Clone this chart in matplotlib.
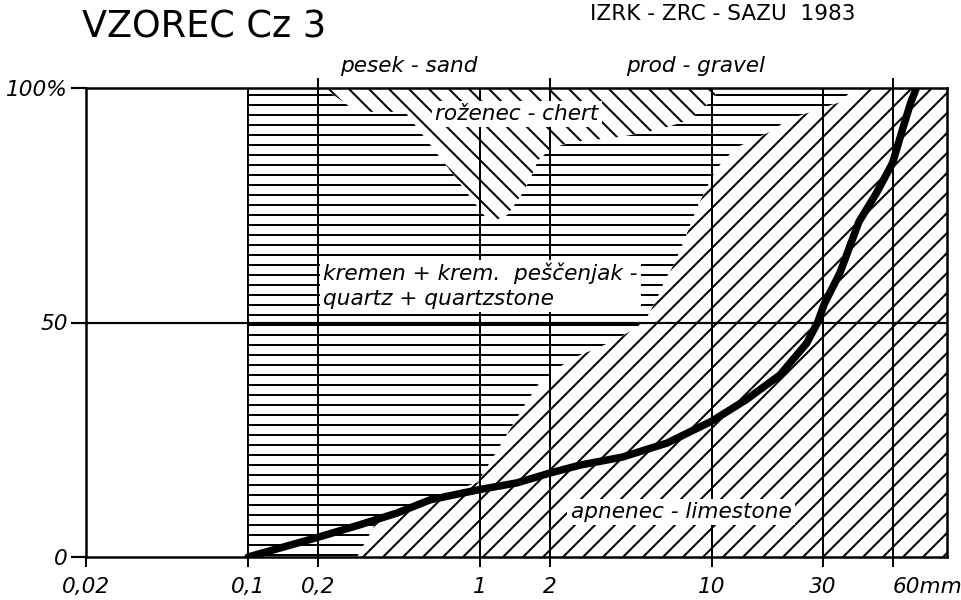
from __future__ import annotations

import matplotlib

matplotlib.use("Agg")
import matplotlib.pyplot as plt
from matplotlib.ticker import NullLocator

# grain size distribution curve (mm, cumulative %)
grain_mm = [0.1, 0.2, 0.3, 0.44, 0.61, 1.0, 1.44, 2.0, 2.7, 4.1, 6.4, 10, 14, 19.6,
            25.6, 28.5, 30.5, 35.6, 43, 51, 60, 67, 72, 76]
cumulative_pct = [0, 4.2, 6.8, 9.4, 12.2, 14.4, 15.8, 17.9, 19.6, 21.3, 24.3, 29, 33.5,
                  38.8, 45.6, 50, 54, 60.6, 71.5, 77.5, 84, 92, 97, 100]

# upper edge of the limestone share
limestone_mm = [0.295, 0.36, 0.44, 0.61, 0.98, 1.56, 1.8, 2.26, 2.7, 3.36, 4.01, 4.75,
                5.25, 5.8, 6.27, 6.93, 7.5, 8.04, 8.71, 9.51, 10.5, 12.6, 14.9, 18.3,
                21.1, 27.2, 35.6, 39.4, 41.5]
limestone_top = [0, 7.8, 9.4, 12.2, 16.0, 32.5, 37.1, 40.9, 43.1, 45.0, 46.9, 49.0,
                 51.2, 55.2, 59.1, 62.9, 67.0, 70.8, 75.1, 78.9, 82.9, 87.2, 88.9, 91.0,
                 93.2, 95.1, 97.0, 99.1, 100]

# lower edge of the chert share
chert_mm = [0.211, 0.295, 0.475, 1.104, 1.31, 1.49, 1.64, 1.78, 2.04, 2.52, 3.74, 5.8,
            8.04, 8.88, 10.0, 10.8]
chert_bottom = [100, 94.9, 94.9, 71.2, 72.9, 76.8, 80.4, 84.6, 87.2, 88.5, 89.3, 91.0,
                93.2, 95.1, 97.4, 100]

size_ticks = [0.02, 0.1, 0.2, 1, 2, 10, 30, 60]
size_labels = ["0,02", "0,1", "0,2", "1", "2", "10", "30", "60mm"]
pct_ticks = [0, 50, 100]
pct_labels = ["0", "50", "100%"]
grid_sizes = [0.1, 0.2, 1, 2, 10, 30, 60]
class_bounds = [0.2, 2, 60]

X_MIN, X_MAX = 0.02, 103
SAMPLE_START = 0.1

DPI = 120


def main() -> None:
	plt.rcParams["font.family"] = ["DejaVu Sans"]
	plt.rcParams["hatch.linewidth"] = 1.2

	fig = plt.figure(figsize=(961 / DPI, 600 / DPI), dpi=DPI)
	ax = fig.add_axes([86 / 961, 43 / 600, 861 / 961, 469 / 600])
	ax.set_xscale("log")
	ax.set_xlim(X_MIN, X_MAX)
	ax.set_ylim(0, 100)

	# limestone: below its upper edge, out to the right border
	lime_x = limestone_mm + [X_MAX, X_MAX]
	lime_y = limestone_top + [100, 0]
	ax.fill(lime_x, lime_y, facecolor="white", edgecolor="black", hatch="//", lw=0, zorder=1)

	# chert: above its lower edge, up to 100 %
	ax.fill(chert_mm, chert_bottom, facecolor="white", edgecolor="black", hatch="\\\\",
			lw=0, zorder=1)

	# quartz: what is left in between
	quartz_x = [SAMPLE_START] + limestone_mm + chert_mm[::-1] + [SAMPLE_START]
	quartz_y = [0] + limestone_top + chert_bottom[::-1] + [100]
	ax.fill(quartz_x, quartz_y, facecolor="white", edgecolor="black", hatch="--",
			lw=0, zorder=1)

	ax.vlines(grid_sizes, 0, 100, colors="black", lw=1.2, zorder=2)
	ax.axhline(50, color="black", lw=1.3, zorder=2)

	ax.plot(grain_mm, cumulative_pct, color="black", lw=4.5, solid_capstyle="round",
			solid_joinstyle="round", zorder=4)

	ax.set_xticks(size_ticks, labels=size_labels)
	ax.xaxis.set_minor_locator(NullLocator())
	ax.set_yticks(pct_ticks, labels=pct_labels)
	ax.tick_params(axis="x", direction="out", length=6, width=1.2, pad=6, labelsize=13)
	ax.tick_params(axis="y", direction="out", length=9, width=1.3, pad=2, labelsize=13)
	for lbl in ax.get_xticklabels() + ax.get_yticklabels():
		lbl.set_fontstyle("italic")
	ax.get_xticklabels()[-1].set_horizontalalignment("left")
	for spine in ax.spines.values():
		spine.set_linewidth(1.5)

	top = ax.secondary_xaxis("top")
	top.set_xticks(class_bounds, labels=[])
	top.xaxis.set_minor_locator(NullLocator())
	top.tick_params(direction="out", length=6, width=1.2)
	top.spines["top"].set_visible(False)

	box = dict(facecolor="white", edgecolor="none", pad=2)
	ax.text(1.44, 94.5, "roženec - chert", ha="center", va="center", fontsize=13,
			fontstyle="italic", bbox=box, zorder=5)
	ax.text(0.211, 57.8, "kremen + krem.  peščenjak -\nquartz + quartzstone",
			ha="left", va="center", fontsize=13, fontstyle="italic", linespacing=1.3,
			bbox=box, zorder=5)
	ax.text(7.35, 9.6, "apnenec - limestone", ha="center", va="center", fontsize=13,
			fontstyle="italic", bbox=box, zorder=5)
	ax.text(0.494, 104.7, "pesek - sand", ha="center", va="center", fontsize=13,
			fontstyle="italic", clip_on=False)
	ax.text(8.45, 104.7, "prod - gravel", ha="center", va="center", fontsize=13,
			fontstyle="italic", clip_on=False)

	fig.text(82 / 961, 1 - 27.5 / 600, "VZOREC Cz 3", ha="left", va="center", fontsize=22)
	fig.text(590 / 961, 1 - 13.5 / 600, "IZRK - ZRC - SAZU  1983", ha="left",
			 va="center", fontsize=13)

	fig.savefig("out.png", dpi=DPI)
	plt.close(fig)


if __name__ == "__main__":
	main()
